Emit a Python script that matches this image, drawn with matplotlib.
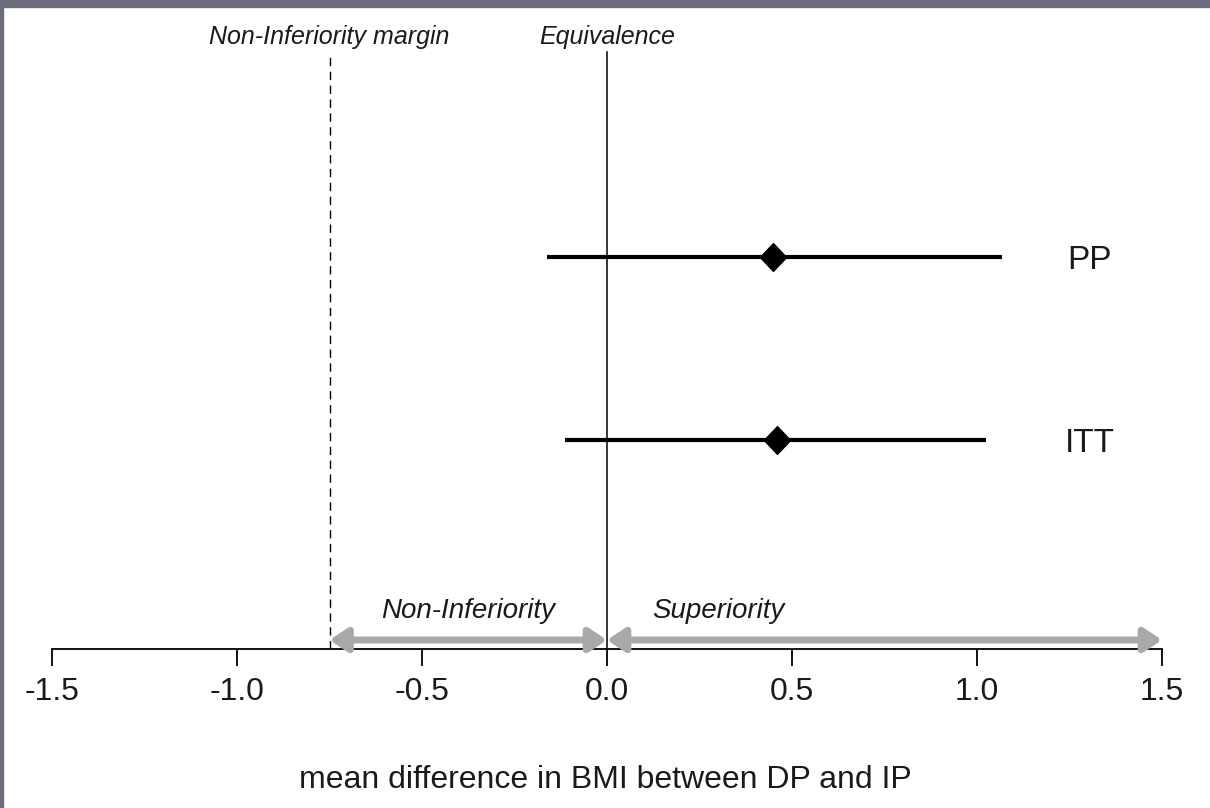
import matplotlib
matplotlib.use("Agg")
import matplotlib.pyplot as plt
from matplotlib.patches import Rectangle
from matplotlib.path import Path
import matplotlib.transforms as mtransforms

plt.rcParams['font.family'] = ['Liberation Sans', 'DejaVu Sans']

# Data
groups = ["ITT", "PP"]
means = [0.459, 0.449]
lower = [-0.114, -0.162]
upper = [1.024, 1.068]
xticks = [-1.5, -1.0, -0.5, 0.0, 0.5, 1.0, 1.5]
xticklabels = ["-1.5", "-1.0", "-0.5", "0.0", "0.5", "1.0", "1.5"]
margin = -0.75
equivalence = 0.0
xlabel = "mean difference in BMI between DP and IP"

W, H = 1210, 808
fig = plt.figure(figsize=(W / 100, H / 100), dpi=100)
fig.patch.set_facecolor("white")

# border bands
fig.patches.append(Rectangle((0, 1 - 7 / H), 1, 7 / H, transform=fig.transFigure,
                             color="#6c6e7f", zorder=0))
fig.patches.append(Rectangle((0, 0), 3 / W, 1, transform=fig.transFigure,
                             color="#6c6e7f", zorder=0))

ax = fig.add_axes([52 / W, 159 / H, 1110 / W, 642 / H])
ax.set_xlim(-1.5, 1.5)
ypos = [1, 2]
ax.set_ylim(1 - 209 / 183, 2 + 250 / 183)
ax.patch.set_alpha(0)

for s in ["top", "right", "left"]:
    ax.spines[s].set_visible(False)
ax.spines["bottom"].set_linewidth(1.3)
ax.spines["bottom"].set_bounds(-1.5, 1.5)
ax.set_yticks([])
ax.set_xticks(xticks)
ax.set_xticklabels(xticklabels)
ax.tick_params(axis="x", direction="out", length=12, width=1.3, pad=8,
               labelsize=23, colors="black", labelcolor="#1a1a1a")

trans = mtransforms.blended_transform_factory(ax.transData, ax.transAxes)

# reference lines
top_frac = (649 - 52) / 642
ax.plot([equivalence, equivalence], [0, top_frac], transform=trans, color="black",
        lw=1.1, zorder=2)
ax.plot([margin, margin], [0, top_frac], transform=trans, color="black",
        lw=1.0, linestyle=(0, (6, 4)), zorder=2)

# diamond marker
diamond = Path([(0, 1), (0.95, 0), (0, -1), (-0.95, 0), (0, 1)],
               [Path.MOVETO, Path.LINETO, Path.LINETO, Path.LINETO, Path.CLOSEPOLY])

for y, m, lo, hi, g in zip(ypos, means, lower, upper, groups):
    ax.plot([lo, hi], [y, y], color="black", lw=3.0, solid_capstyle="butt", zorder=3)
    ax.plot([m], [y], marker=diamond, markersize=20, color="black", zorder=4)
    ax.text(1.305, y, g, ha="center", va="center_baseline", fontsize=24, color="#1a1a1a")

# gray arrows
arrow_y = 9 / 642
ap = dict(arrowstyle="<|-|>,head_length=1.05,head_width=0.7", color="#a9a9a9",
          lw=5.0, shrinkA=0, shrinkB=0)
ax.annotate("", xy=(margin, arrow_y), xytext=(equivalence, arrow_y), xycoords=trans,
            textcoords=trans, arrowprops=ap, zorder=3)
ax.annotate("", xy=(equivalence, arrow_y), xytext=(1.5, arrow_y), xycoords=trans,
            textcoords=trans, arrowprops=ap, zorder=3)

# annotations
ax.text(margin, (649 - 37) / 642, "Non-Inferiority margin", transform=trans,
        ha="center", va="center", fontsize=18, style="italic", color="#1a1a1a")
ax.text(equivalence, (649 - 37) / 642, "Equivalence", transform=trans,
        ha="center", va="center", fontsize=18, style="italic", color="#1a1a1a")
ax.text((margin + equivalence) / 2, (649 - 611) / 642, "Non-Inferiority",
        transform=trans, ha="center", va="center", fontsize=20, style="italic",
        color="#1a1a1a")
ax.text(0.300, (649 - 611) / 642, "Superiority", transform=trans,
        ha="center", va="center", fontsize=20, style="italic", color="#1a1a1a")

fig.text(605 / W, 1 - 780 / H, xlabel, ha="center", va="center", fontsize=23,
         color="#1a1a1a")

fig.savefig("out.png", dpi=100, facecolor=fig.get_facecolor())
